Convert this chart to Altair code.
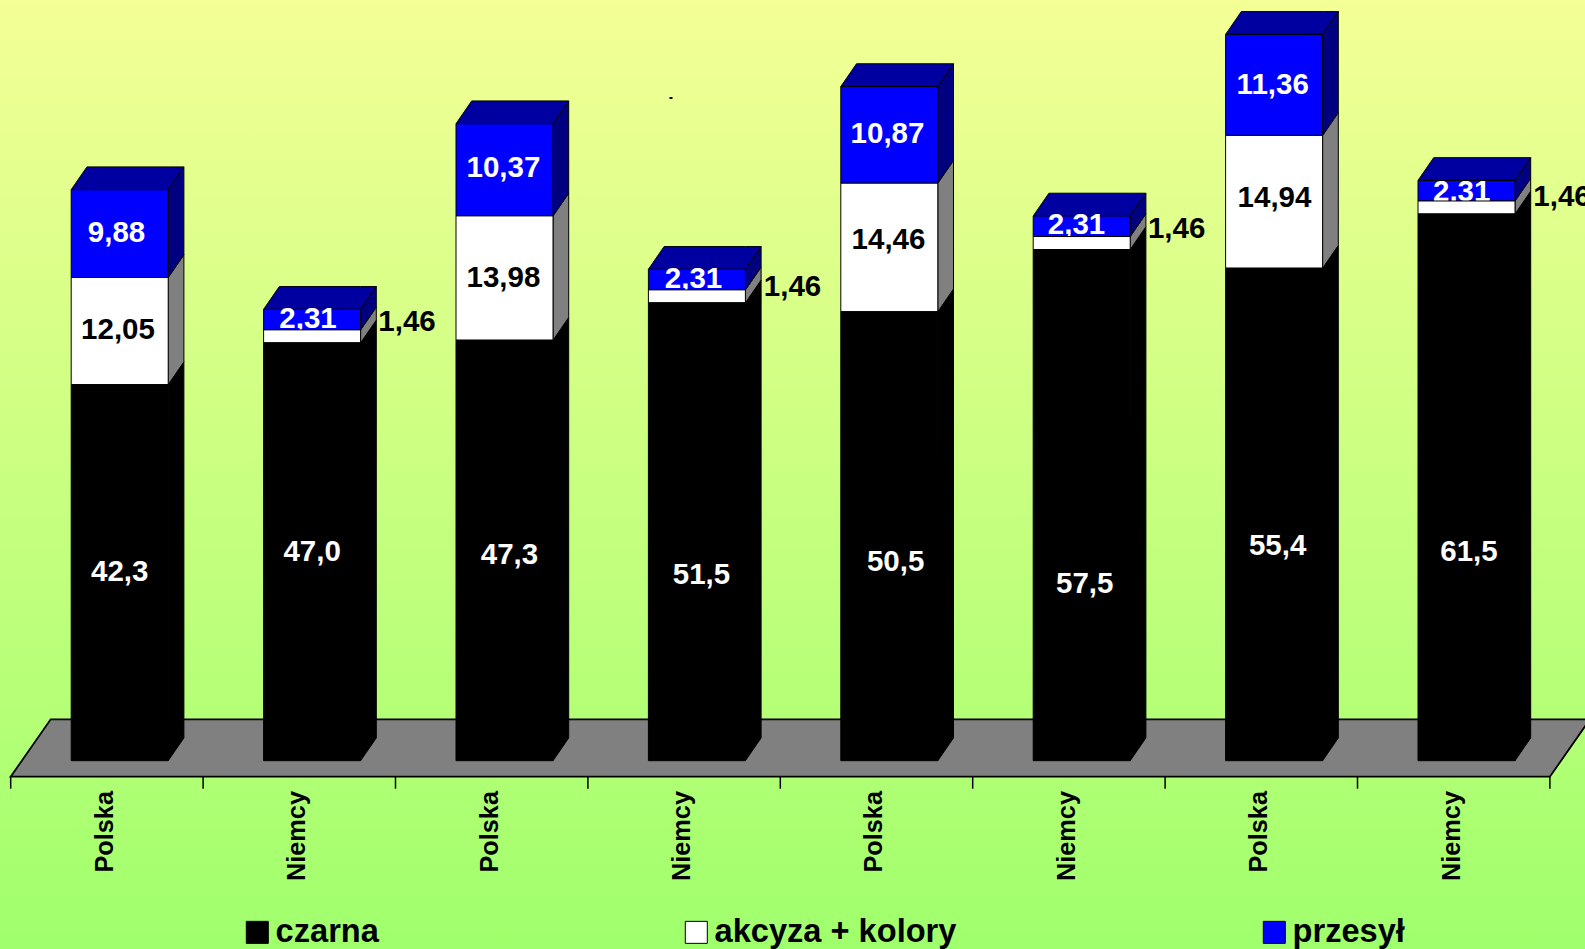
import altair as alt
import pandas as pd

# Prices by country and year pair, stacked: black energy, excise + colours, transmission
countries = ["Polska", "Niemcy", "Polska", "Niemcy", "Polska", "Niemcy", "Polska", "Niemcy"]
czarna = [42.3, 47.0, 47.3, 51.5, 50.5, 57.5, 55.4, 61.5]
akcyza = [12.05, 1.46, 13.98, 1.46, 14.46, 1.46, 14.94, 1.46]
przesyl = [9.88, 2.31, 10.37, 2.31, 10.87, 2.31, 11.36, 2.31]

czarna_text = ["42,3", "47,0", "47,3", "51,5", "50,5", "57,5", "55,4", "61,5"]
akcyza_text = ["12,05", "1,46", "13,98", "1,46", "14,46", "1,46", "14,94", "1,46"]
przesyl_text = ["9,88", "2,31", "10,37", "2,31", "10,87", "2,31", "11,36", "2,31"]

series_names = ["czarna", "akcyza + kolory", "przesył"]
series_colors = ["#000000", "#ffffff", "#0000ff"]

# Hand placement of the value labels, in pixels from the middle of their segment
czarna_nudge = [(0, -0.7), (0, 0.2), (5, 4.6), (4.6, 43.2), (6.3, 25.8), (3, 78.9), (3.5, 31.6), (2.5, 64.7)]
akcyza_nudge = [(-1.7, -1), (94.9, -14.7), (-1.1, 0), (95.6, -9.4), (-0.8, -7), (94.9, -14.5), (0.4, -3.3), (95.5, -10.5)]
przesyl_nudge = [(-3.2, -0.6), (-4.1, -0.6), (-1.1, -1.8), (-3.4, -0.6), (-1.8, -0.4), (-5.2, -0.8), (-1.4, 0.1), (-4.8, 1.3)]

# Canvas and scale geometry
W, H = 1585, 949
SLOT_PX = 192.4        # one category slot
LEFT_PX = 10.7         # first tick
VALUE_PX = 8.89        # one unit of value
BASE_PX = 760.7        # value zero on the bars' front face
X_DOMAIN = [-LEFT_PX / SLOT_PX, (W - LEFT_PX) / SLOT_PX]
Y_DOMAIN = [(BASE_PX - H) / VALUE_PX, BASE_PX / VALUE_PX]

# Oblique depth of the 3D look
DX = 15.7 / SLOT_PX
DY = 22.8 / VALUE_PX
BAR_START = 60.5 / SLOT_PX
BAR_WIDTH = 97 / SLOT_PX
FLOOR_FRONT = -16 / VALUE_PX
FLOOR_BACK = 41.4 / VALUE_PX
FLOOR_DX = 40 / SLOT_PX
TICK_LENGTH = 12 / VALUE_PX

x_scale = alt.Scale(domain=X_DOMAIN, range=[0, W], nice=False, zero=False)
y_scale = alt.Scale(domain=Y_DOMAIN, range=[H, 0], nice=False, zero=False)
colour_scale = alt.Scale(domain=series_names, range=series_colors)

front_rows, face_rows, label_rows = [], [], []
side_fill = {"czarna": "#000000", "akcyza + kolory": "#808080", "przesył": "#000080"}
text_fill = {"czarna": "#ffffff", "akcyza + kolory": "#000000", "przesył": "#ffffff"}

for i in range(len(countries)):
    x0 = i + BAR_START
    x1 = x0 + BAR_WIDTH
    bottom = 0.0
    stack = [
        ("czarna", czarna[i], czarna_text[i], czarna_nudge[i]),
        ("akcyza + kolory", akcyza[i], akcyza_text[i], akcyza_nudge[i]),
        ("przesył", przesyl[i], przesyl_text[i], przesyl_nudge[i]),
    ]
    for name, value, text, (nudge_x, nudge_y) in stack:
        top = bottom + value
        front_rows.append(dict(series=name, x=x0, x2=x1, y=bottom, y2=top))
        face = f"{i}-{name}"
        face_rows.append(dict(face=face + "-side", fill=side_fill[name], x=x1, y=bottom, y2=top))
        face_rows.append(dict(face=face + "-side", fill=side_fill[name], x=x1 + DX, y=bottom + DY, y2=top + DY))
        label_rows.append(dict(
            series=name,
            text=text,
            colour=text_fill[name],
            x=(x0 + x1) / 2 + nudge_x / SLOT_PX,
            y=(bottom + top) / 2 - nudge_y / VALUE_PX,
        ))
        bottom = top
    # Top cap of the stack
    lid = f"{i}-lid"
    for px, low, high in [(x0, bottom, bottom), (x0 + DX, bottom, bottom + DY),
                          (x1, bottom, bottom + DY), (x1 + DX, bottom + DY, bottom + DY)]:
        face_rows.append(dict(face=lid, fill="#0000a0", x=px, y=low, y2=high))

fronts = pd.DataFrame(front_rows)
faces = pd.DataFrame(face_rows)
labels = pd.DataFrame(label_rows)
categories = pd.DataFrame(dict(country=countries, x=[i + 0.531 for i in range(len(countries))],
                               y=[(BASE_PX - 791) / VALUE_PX] * len(countries)))
n = len(countries)
floor = pd.DataFrame(dict(
    x=[0, FLOOR_DX, n, n + FLOOR_DX],
    y=[FLOOR_FRONT, FLOOR_FRONT, FLOOR_FRONT, FLOOR_BACK],
    y2=[FLOOR_FRONT, FLOOR_BACK, FLOOR_BACK, FLOOR_BACK],
))
ticks = pd.DataFrame(dict(x=list(range(n + 1)), y=[FLOOR_FRONT] * (n + 1),
                          y2=[FLOOR_FRONT - TICK_LENGTH] * (n + 1)))

X = alt.X("x:Q", scale=x_scale, title=None, axis=None)
Y = alt.Y("y:Q", scale=y_scale, title=None, axis=None, stack=None)

backdrop = alt.Chart(pd.DataFrame(dict(k=[0]))).mark_rect(
    color=alt.Gradient(gradient="linear", x1=0, y1=0, x2=0, y2=1,
                       stops=[alt.GradientStop(offset=0, color="#f4ff96"),
                              alt.GradientStop(offset=1, color="#a0ff6c")])
).encode(x=alt.value(0), x2=alt.value(W), y=alt.value(0), y2=alt.value(H))

speck = alt.Chart(pd.DataFrame(dict(k=[0]))).mark_rect(color="#000000").encode(
    x=alt.value(669.5), x2=alt.value(672.5), y=alt.value(97), y2=alt.value(99)
)

floor_layer = alt.Chart(floor).mark_area(
    color="#808080", stroke="#000000", strokeWidth=1.8
).encode(x=X, y=Y, y2="y2:Q")

tick_layer = alt.Chart(ticks).mark_rule(color="#000000", strokeWidth=1.5).encode(x=X, y=Y, y2="y2:Q")

depth_layer = alt.Chart(faces).mark_area(stroke="#000000", strokeWidth=1).encode(
    x=X, y=Y, y2="y2:Q",
    fill=alt.Fill("fill:N", scale=None), detail="face:N",
)


def front_layer(name, legend=None):
    return alt.Chart(fronts[fronts.series == name]).mark_rect(stroke="#000000", strokeWidth=1).encode(
        x=X, x2="x2:Q", y=Y, y2="y2:Q",
        color=alt.Color("series:N", scale=colour_scale, legend=legend),
    )


def label_layer(name):
    return alt.Chart(labels[labels.series == name]).mark_text(
        font="Liberation Sans", fontWeight="bold", fontSize=29.5, align="center", baseline="middle"
    ).encode(
        x=X, y=Y,
        text="text:N", color=alt.Color("colour:N", scale=None),
    )


legend = alt.Legend(
    orient="none", legendX=241, legendY=916, direction="horizontal", columns=3, title=None,
    symbolType="square", symbolSize=484, symbolStrokeColor="#000000", symbolStrokeWidth=1,
    labelFont="Liberation Sans", labelFontWeight="bold", labelFontSize=32.6, labelColor="#000000",
    labelOffset=2, labelLimit=400, columnPadding=301, padding=0,
)

category_layer = alt.Chart(categories).mark_text(
    font="Liberation Sans", fontWeight="bold", fontSize=25.3, angle=270, align="right",
    baseline="alphabetic", color="#000000"
).encode(x=X, y=Y, text="country:N")

chart = alt.layer(
    backdrop,
    speck,
    floor_layer,
    tick_layer,
    depth_layer,
    front_layer("przesył", legend),
    label_layer("przesył"),
    front_layer("akcyza + kolory"),
    front_layer("czarna"),
    label_layer("akcyza + kolory"),
    label_layer("czarna"),
    category_layer,
).properties(
    width=W, height=H, padding=0, autosize=alt.AutoSizeParams(type="none"),
).configure_view(stroke=None)

chart.save("out.html", embed_options={"renderer": "svg", "actions": False})
